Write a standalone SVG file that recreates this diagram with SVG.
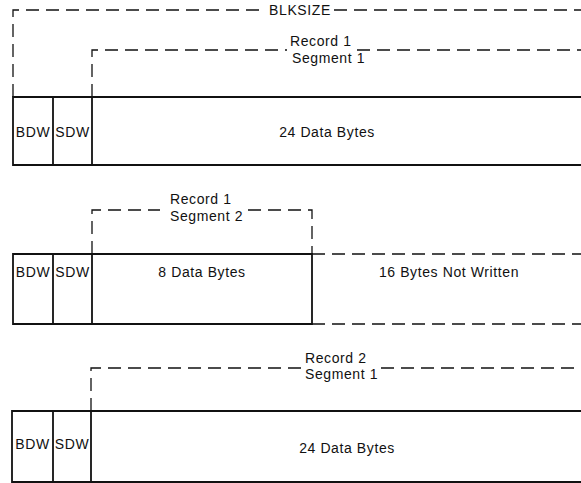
<svg xmlns="http://www.w3.org/2000/svg" width="581" height="483" viewBox="0 0 581 483">
<style>
.solid{fill:none;stroke:#111;stroke-width:1.8}
.dash{fill:none;stroke:#111;stroke-width:1.3;stroke-dasharray:13 7}
text{font-family:"Liberation Sans",Arial,sans-serif;font-size:14px;fill:#111;letter-spacing:0.6px}
</style>
<rect width="581" height="483" fill="#fff"/>
<g id="connectors">
  <path class="dash" d="M13,97 V10 H266"/>
  <path class="dash" d="M334,10 H581"/>
  <path class="dash" d="M92,97 V50 H287"/>
  <path class="dash" d="M357,50 H581"/>
  <path class="dash" d="M92,254 V210 H160"/>
  <path class="dash" d="M248,210 H312 V254"/>
  <path class="dash" d="M91,411 V368 H302"/>
  <path class="dash" d="M381,368 H581"/>
</g>
<g id="label-blksize"><text x="300" y="15" text-anchor="middle">BLKSIZE</text></g>
<g id="label-r1s1">
  <text x="290" y="46">Record 1</text>
  <text x="292" y="63">Segment 1</text>
</g>
<g id="label-r1s2">
  <text x="170" y="204">Record 1</text>
  <text x="170" y="221">Segment 2</text>
</g>
<g id="label-r2s1">
  <text x="305" y="363">Record 2</text>
  <text x="305" y="379">Segment 1</text>
</g>
<g id="block1">
  <path class="solid" d="M581,97 H13 V165 H581 M53,97 V165 M92,97 V165"/>
  <text x="33" y="137" text-anchor="middle" letter-spacing="0">BDW</text>
  <text x="72.5" y="137" text-anchor="middle" letter-spacing="0">SDW</text>
  <text x="327" y="137" text-anchor="middle">24 Data Bytes</text>
</g>
<g id="block2">
  <path class="solid" d="M13,254 H312 V324 H13 Z M53,254 V324 M92,254 V324"/>
  <path class="dash" d="M312,254 H581 M312,324 H581"/>
  <text x="33" y="277" text-anchor="middle" letter-spacing="0">BDW</text>
  <text x="72.5" y="277" text-anchor="middle" letter-spacing="0">SDW</text>
  <text x="202" y="277" text-anchor="middle">8 Data Bytes</text>
  <text x="449" y="277" text-anchor="middle">16 Bytes Not Written</text>
</g>
<g id="block3">
  <path class="solid" d="M581,411 H12 V482 H581 M53,411 V482 M91,411 V482"/>
  <text x="32.5" y="449" text-anchor="middle" letter-spacing="0">BDW</text>
  <text x="72" y="449" text-anchor="middle" letter-spacing="0">SDW</text>
  <text x="347" y="453" text-anchor="middle">24 Data Bytes</text>
</g>
</svg>
